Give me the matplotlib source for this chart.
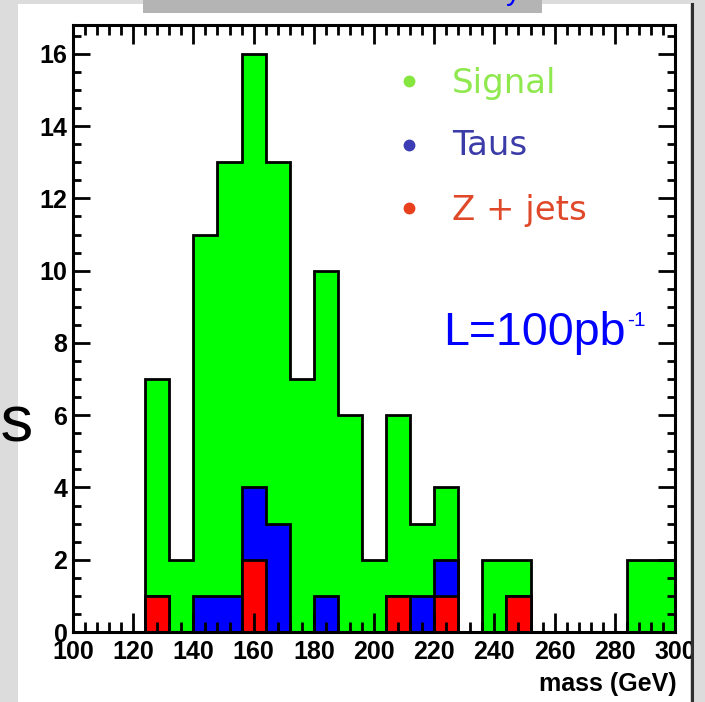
import numpy as np
import matplotlib
matplotlib.use("Agg")
from matplotlib import pyplot as plt
from matplotlib.patches import Rectangle
from matplotlib.lines import Line2D
from matplotlib.ticker import MultipleLocator

# mass histogram, 8 GeV bins from 100 to 300
bin_edges = np.arange(100, 301, 8)
signal = [0, 0, 0, 6, 2, 10, 12, 12, 10, 7, 9, 6, 2, 5, 2, 2, 0, 2, 1, 0, 0, 0, 0, 2, 2]
taus = [0, 0, 0, 0, 0, 1, 1, 2, 3, 0, 1, 0, 0, 0, 1, 1, 0, 0, 0, 0, 0, 0, 0, 0, 0]
zjets = [0, 0, 0, 1, 0, 0, 0, 2, 0, 0, 0, 0, 0, 1, 0, 1, 0, 0, 1, 0, 0, 0, 0, 0, 0]

legend_labels = ["Signal", "Taus", "Z + jets"]
legend_text_colors = ["#8ee84e", "#3c3ca8", "#e0482a"]
legend_dot_colors = ["#86e640", "#3c3cb4", "#e8401c"]

W, H = 705, 702
fig = plt.figure(figsize=(W / 100, H / 100), dpi=100)
fig.patch.set_facecolor("#dcdcdc")

def fx(px):
    return px / W

def fy(py):
    return 1 - py / H

# white slide area, title bar and slide border
fig.add_artist(Rectangle((fx(18), 0), fx(690 - 18), (H - 4) / H, transform=fig.transFigure,
                         fc="white", ec="none", zorder=0))
fig.add_artist(Rectangle((fx(143), fy(13)), fx(542 - 143), 13 / H, transform=fig.transFigure,
                         fc="#b4b4b4", ec="none", zorder=1))
# page margin to the right of the border hides anything spilling over
fig.add_artist(Rectangle((fx(691), 0), fx(W - 691), 1, transform=fig.transFigure,
                         fc="#dcdcdc", ec="none", zorder=10))
fig.add_artist(Line2D([fx(691.5), fx(691.5)], [0, fy(4)], transform=fig.transFigure,
                      color="#303030", lw=2.2, zorder=11))
fig.text(fx(514), fy(-1), "y", color="#0000ff", fontsize=22, family="Liberation Sans",
         ha="center", va="baseline", zorder=2)
fig.text(fx(34), fy(442), "ss", color="black", fontsize=47, family="Liberation Sans",
         ha="right", va="baseline", zorder=2)

ax = fig.add_axes([fx(73), fy(632), fx(675 - 73), (632 - 25) / H])
ax.set_facecolor("white")

sig = np.array(signal)
tau = np.array(taus)
zj = np.array(zjets)
total = sig + tau + zj
bkg = tau + zj

ax.stairs(total, bin_edges, fill=True, facecolor="#00ff00", edgecolor="black", lw=2.0)
ax.stairs(bkg, bin_edges, fill=True, facecolor="#0000ff", edgecolor="black", lw=2.0)
ax.stairs(zj, bin_edges, fill=True, facecolor="#ff0000", edgecolor="black", lw=2.0)

ax.set_xlim(100, 300)
ax.set_ylim(0, 16.8)
ax.xaxis.set_major_locator(MultipleLocator(20))
ax.xaxis.set_minor_locator(MultipleLocator(4))
ax.yaxis.set_major_locator(MultipleLocator(2))
ax.yaxis.set_minor_locator(MultipleLocator(0.5))

for sp in ax.spines.values():
    sp.set_linewidth(2.2)
    sp.set_zorder(5)

ax.tick_params(which="both", direction="in", top=True, right=True, width=2.0, zorder=6)
ax.tick_params(axis="x", which="major", length=13.5, pad=6)
ax.tick_params(axis="x", which="minor", length=7.5)
ax.tick_params(axis="y", which="major", length=12.5, pad=4)
ax.tick_params(axis="y", which="minor", length=6)
for lab in ax.get_xticklabels() + ax.get_yticklabels():
    lab.set_family("Liberation Sans")
    lab.set_fontweight("bold")
    lab.set_fontsize(18)

ax.set_xlabel("mass (GeV)", family="Liberation Sans", fontweight="bold", fontsize=18)
ax.xaxis.set_label_coords(1.003, -0.066)
ax.xaxis.label.set_horizontalalignment("right")

def axx(px):
    return (px - 73) / 602

def axy(py):
    return (632 - py) / 607

# legend drawn as coloured dots and labels
dot_y = [80.5, 145, 208]
text_base = [92.5, 155, 220]
for lab, tc, dc, dy, ty in zip(legend_labels, legend_text_colors, legend_dot_colors, dot_y, text_base):
    ax.plot([axx(409)], [axy(dy)], "o", color=dc, ms=7.5, transform=ax.transAxes, clip_on=False)
    ax.text(axx(452), axy(ty), lab, color=tc, fontsize=24.5, family="DejaVu Sans",
            ha="left", va="baseline", transform=ax.transAxes)

lum = ax.text(axx(443), axy(345), "L=100pb", color="#0000ff", fontsize=33.5,
              family="Liberation Sans", ha="left", va="baseline", transform=ax.transAxes)
ax.annotate("-1", xy=(1, 1), xycoords=lum, xytext=(1.5, 0), textcoords="offset points",
            color="#0000ff", fontsize=15, family="Liberation Sans", ha="left", va="top")

fig.savefig("out.png", dpi=100, facecolor=fig.get_facecolor())
